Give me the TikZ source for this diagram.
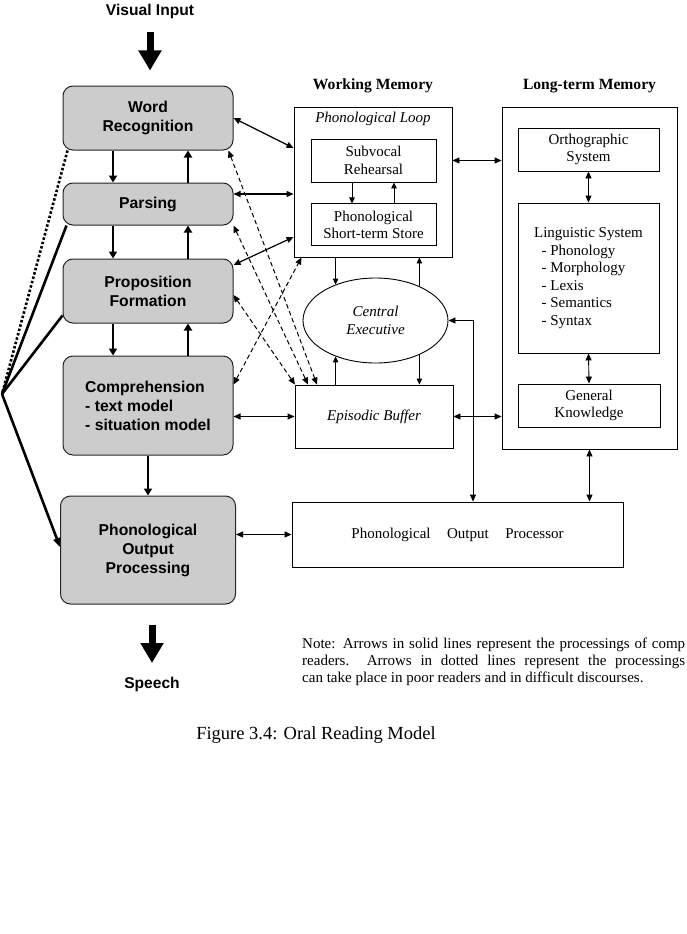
\documentclass[tikz,border=0pt]{standalone}
\usepackage{fontspec}
\setmainfont{Liberation Serif}
\setsansfont{Liberation Sans}
\usepackage{tikz}
\usetikzlibrary{arrows.meta, positioning, shapes.geometric}

\begin{document}
\begin{tikzpicture}[
      x=1pt, y=-1pt,
      procbox/.style={draw=black!85, line width=1pt, fill=black!20, rounded corners=10pt,
                      align=center, minimum width=170pt, inner sep=2pt,
                      font=\sffamily\bfseries\fontsize{15.7}{19}\selectfont},
      membox/.style={draw, line width=0.9pt, align=center, inner sep=2pt,
                     font=\fontsize{15}{17.5}\selectfont},
      heading/.style={inner sep=0pt, font=\bfseries\fontsize{15.6}{18}\selectfont},
      sans/.style={inner sep=0pt, font=\sffamily\bfseries\fontsize{15.6}{19}\selectfont},
      thickarr/.style={-{Triangle[length=7pt,width=8pt]}, line width=2.2pt},
      arr/.style={-{Triangle[length=6pt,width=5.5pt]}, line width=0.9pt},
      dbl/.style={{Triangle[length=7pt,width=6pt]}-{Triangle[length=7pt,width=6pt]}, line width=0.9pt},
      dasharr/.style={dbl, line width=1pt, dash pattern=on 4.5pt off 3pt},
      bigarr/.style={-{Triangle[length=20pt,width=22pt]}, line width=7pt},
      fanline/.style={line width=2.6pt}
    ]
    \useasboundingbox (0,0) rectangle (686,934);

    % reading stages
    \node[sans] (vin) at (150,11) {Visual Input};
    \node[procbox, minimum height=64pt] (wr) at (148,118) {Word\\Recognition};
    \node[procbox, minimum height=42pt, below=32pt of wr] (parse) {Parsing};
    \node[procbox, minimum height=64pt, below=33pt of parse] (prop) {Proposition\\Formation};
    \node[procbox, minimum height=99pt, below=32pt of prop, align=left] (comp) {Comprehension\\- text model\\- situation model};
    \node[procbox, minimum width=175pt, minimum height=108pt, below=40pt of comp] (pop) {Phonological\\Output\\Processing};
    \node[sans] (speech) at (152,684) {Speech};
    \coordinate (fan) at (2,394);

    % working memory
    \node[membox, minimum width=158pt, minimum height=150pt] (wm) at (373,182) {};
    \node[heading, above=13pt of wm] (wmtitle) {Working Memory};
    \node[inner sep=0pt, font=\itshape\fontsize{15}{17}\selectfont, below=5pt of wm.north] (ploop) {Phonological Loop};
    \node[membox, minimum width=125pt, minimum height=43pt] (sr) at (373.5,160.5) {Subvocal\\Rehearsal};
    \node[membox, minimum width=125pt, minimum height=42pt, below=21pt of sr] (psts) {Phonological\\Short-term Store};
    \node[ellipse, draw, line width=0.9pt, minimum width=145pt, minimum height=85pt, inner sep=0pt,
          align=center, font=\itshape\fontsize{15}{18}\selectfont] (ce) at (375.5,320.5) {Central\\Executive};
    \node[membox, minimum width=158pt, minimum height=63pt, font=\itshape\fontsize{15}{17}\selectfont] (eb) at (374,416.5) {Episodic Buffer};

    % long-term memory
    \node[membox, minimum width=175pt, minimum height=342pt] (ltm) at (589.5,278) {};
    \node[heading, above=13pt of ltm] (ltmtitle) {Long-term Memory};
    \node[membox, minimum width=141pt, minimum height=43pt] (orth) at (588.5,149.5) {Orthographic\\System};
    \node[membox, minimum width=141pt, minimum height=150pt, align=left] (ling) at (588.5,278)
      {Linguistic System\\\hspace*{0.5em}- Phonology\\\hspace*{0.5em}- Morphology\\\hspace*{0.5em}- Lexis\\\hspace*{0.5em}- Semantics\\\hspace*{0.5em}- Syntax};
    \node[membox, minimum width=142pt, minimum height=43pt] (gk) at (589,405.5) {General\\Knowledge};

    \node[membox, minimum width=331pt, minimum height=65pt] (popr) at (457.5,534.5) {Phonological\hspace{1.1em}Output\hspace{1.1em}Processor};

    \node[anchor=north west, inner sep=0pt, text width=383pt, align=justify, font=\fontsize{15}{17}\selectfont] (note) at (302,638)
      {Note: Arrows in solid lines represent the processings of comp\linebreak readers.\ \ Arrows in dotted lines represent the processings\linebreak can take place in poor readers and in difficult discourses.};
    \node[inner sep=0pt, font=\fontsize{18.5}{22}\selectfont] (caption) at (316,735) {Figure 3.4: Oral Reading Model};

    % input and output
    \draw[bigarr, shorten <=13.5pt, shorten >=15pt] (vin.south) -- (vin.south |- wr.north);
    \draw[bigarr, shorten <=20pt, shorten >=13.5pt] (pop.south -| speech.north) -- (speech.north);

    % between stages
    \draw[thickarr] ([xshift=-35pt]wr.south) -- ([xshift=-35pt]parse.north);
    \draw[thickarr] ([xshift=40pt]parse.north) -- ([xshift=40pt]wr.south);
    \draw[thickarr] ([xshift=-35pt]parse.south) -- ([xshift=-35pt]prop.north);
    \draw[thickarr] ([xshift=40pt]prop.north) -- ([xshift=40pt]parse.south);
    \draw[thickarr] ([xshift=-35pt]prop.south) -- ([xshift=-35pt]comp.north);
    \draw[thickarr] ([xshift=40pt]comp.north) -- ([xshift=40pt]prop.south);
    \draw[thickarr] (comp.south) -- (pop.north);

    % skipping routes
    \draw[fanline, dash pattern=on 2.5pt off 2pt] ([xshift=5pt]wr.south west) -- (fan);
    \draw[fanline] ([xshift=4pt]parse.south west) -- (fan);
    \draw[fanline] ([yshift=8pt]prop.south west) -- (fan);
    \draw[fanline, -{Triangle[length=9pt,width=7pt]}] (fan) -- ([yshift=3pt]pop.west);

    % stages to memory
    \draw[dbl, line width=1.2pt] (wr.east) -- ([yshift=34pt]wm.west);
    \draw[dbl, line width=1.2pt] ([yshift=10pt]parse.east) -- ([yshift=10pt]parse.east -| wm.west);
    \draw[dbl, line width=1.2pt] ([yshift=26pt]prop.east) -- ([yshift=-55pt]wm.west);
    \draw[dbl, line width=1.2pt] (comp.east |- eb.west) -- (eb.west);
    \draw[dbl, line width=1.2pt] (popr.west -| pop.east) -- (popr.west);

    \draw[dasharr] ([xshift=-5pt]wr.south east) -- ([xshift=-57pt]eb.north);
    \draw[dasharr] (parse.south east) -- ([xshift=-66pt]eb.north);
    \draw[dasharr] ([yshift=-4pt]prop.east) -- ([xshift=-79pt]eb.north);
    \draw[dasharr] ([yshift=-29pt]comp.north east) -- ([xshift=8pt]wm.south west);

    % inside memory
    \draw[arr] ([xshift=-21.5pt]sr.south) -- ([xshift=-21.5pt]psts.north);
    \draw[arr] ([xshift=20.5pt]psts.north) -- ([xshift=20.5pt]sr.south);
    \draw[arr] (wm.south -| ce.138) -- (ce.138);
    \draw[arr] (ce.38) -- (wm.south -| ce.38);
    \draw[arr] (eb.north -| ce.222) -- (ce.222);
    \draw[arr] (ce.322) -- (eb.north -| ce.322);

    \draw[dbl] (sr.east -| wm.east) -- (sr.east -| ltm.west);
    \draw[dbl] (eb.east) -- (eb.east -| ltm.west);
    \draw[dbl] (orth.south) -- (ling.north);
    \draw[dbl] (ling.south) -- (gk.north);
    \draw[dbl] (ce.east) -| ([xshift=15.5pt]popr.north);
    \draw[dbl] (ltm.south) -- (ltm.south |- popr.north);
  \end{tikzpicture}
\end{document}
